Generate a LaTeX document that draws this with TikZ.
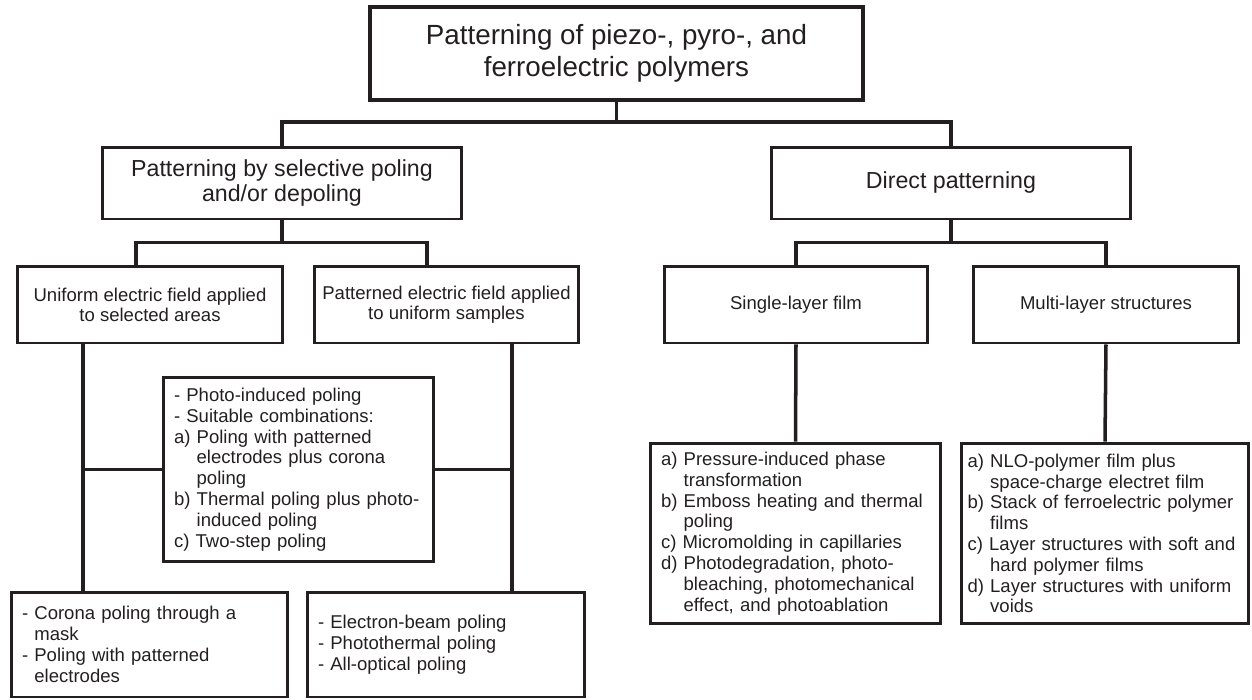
\documentclass[tikz,border=0pt]{standalone}
\usepackage{fontspec}
\setmainfont{Liberation Sans}
\usepackage{tikz}
\usetikzlibrary{calc}
\definecolor{trink}{RGB}{35,31,32}
\newcommand{\hangA}{\hphantom{a)\ }}
\newcommand{\hangD}{\hphantom{-\ }}
\tikzset{
  frame/.style={
    draw=trink, text=trink, line width=1.7pt, align=center, inner sep=0pt
  },
  headbox/.style={frame, line width=2pt, font=\fontsize{15.8}{18.2}\selectfont},
  branchbox/.style={frame, font=\fontsize{13.2}{13.7}\selectfont},
  catbox/.style={frame, font=\fontsize{10.55}{11.4}\selectfont},
  listbox/.style={frame, align=left, inner xsep=0.22cm, font=\fontsize{10.55}{11.85}\selectfont},
  conn/.style={draw=trink, line width=2pt, line join=miter}
}

\begin{document}
\begin{tikzpicture}[x=0.02cm, y=-0.02cm]
  \useasboundingbox (0,0) rectangle (1252,700);
  \node[headbox, minimum width=9.86cm, minimum height=1.86cm] (root) at (616.5,53.5)
    {Patterning of piezo-, pyro-, and\\ferroelectric polymers};
  \node[branchbox, minimum width=7.2cm, minimum height=1.44cm] (sel) at (282,183)
    {Patterning by selective poling\\and/or depoling};
  \node[branchbox, minimum width=7.2cm, minimum height=1.44cm] (direct) at (951,183)
    {Direct patterning};
  \node[catbox, minimum width=5.32cm, minimum height=1.54cm] (unif) at (150,304.5)
    {Uniform electric field applied\\to selected areas};
  \node[catbox, minimum width=5.3cm, minimum height=1.54cm] (patt) at (446.5,304.5)
    {Patterned electric field applied\\to uniform samples};
  \node[catbox, minimum width=5.28cm, minimum height=1.54cm] (single) at (796,304.5)
    {Single-layer film};
  \node[catbox, minimum width=5.32cm, minimum height=1.54cm] (multi) at (1106,304.5)
    {Multi-layer structures};
  \node[listbox, text width=4.98cm, minimum height=3.7cm] (comb) at (298.5,469.5)
    {- Photo-induced poling\\
     - Suitable combinations:\\
     a) Poling with patterned\\
     \hangA electrodes plus corona\\
     \hangA poling\\
     b) Thermal poling plus photo-\\
     \hangA induced poling\\
     c) Two-step poling};
  \node[listbox, text width=5.1cm, minimum height=2.1cm] (mask) at (149.5,644.5)
    {- Corona poling through a\\
     \hangD mask\\
     - Poling with patterned\\
     \hangD electrodes};
  \node[listbox, text width=5.12cm, minimum height=2.1cm] (ebeam) at (446,644.5)
    {- Electron-beam poling\\
     - Photothermal poling\\
     - All-optical poling};
  \node[listbox, text width=5.38cm, minimum height=3.62cm] (slist) at (795.5,533.5)
    {a) Pressure-induced phase\\
     \hangA transformation\\
     b) Emboss heating and thermal\\
     \hangA poling\\
     c) Micromolding in capillaries\\
     d) Photodegradation, photo-\\
     \hangA bleaching, photomechanical\\
     \hangA effect, and photoablation};
  \node[listbox, inner xsep=0.13cm, text width=5.5cm, minimum height=3.62cm] (mlist) at (1105,533.5)
    {a) NLO-polymer film plus\\
     \hangA space-charge electret film\\
     b) Stack of ferroelectric polymer\\
     \hangA films\\
     c) Layer structures with soft and\\
     \hangA hard polymer films\\
     d) Layer structures with uniform\\
     \hangA voids};

  \draw[conn] (root.south) -- ++(0,20) coordinate (j0);
  \draw[conn] (sel.north) |- (j0) -| (direct.north);
  \draw[conn] (sel.south) -- ++(0,22) coordinate (j1);
  \coordinate (ua) at ($(unif.north)+(-14,0)$);
  \coordinate (pa) at ($(patt.north)+(-19.5,0)$);
  \draw[conn] (ua) |- (j1) -| (pa);
  \draw[conn] (direct.south) -- ++(0,22) coordinate (j2);
  \draw[conn] (single.north) |- (j2) -| (multi.north);
  \coordinate (ub) at ($(unif.south)+(-67,0)$);
  \coordinate (pb) at ($(patt.south)+(65.5,0)$);
  \draw[conn] (ub) -- (ub |- mask.north);
  \draw[conn] (pb) -- (pb |- ebeam.north);
  \draw[conn] (comb.west) -- (comb.west -| ub);
  \draw[conn] (comb.east) -- (comb.east -| pb);
  \draw[conn] (single.south) -- (slist.north);
  \draw[conn] (multi.south) -- (mlist.north);
\end{tikzpicture}
\end{document}
